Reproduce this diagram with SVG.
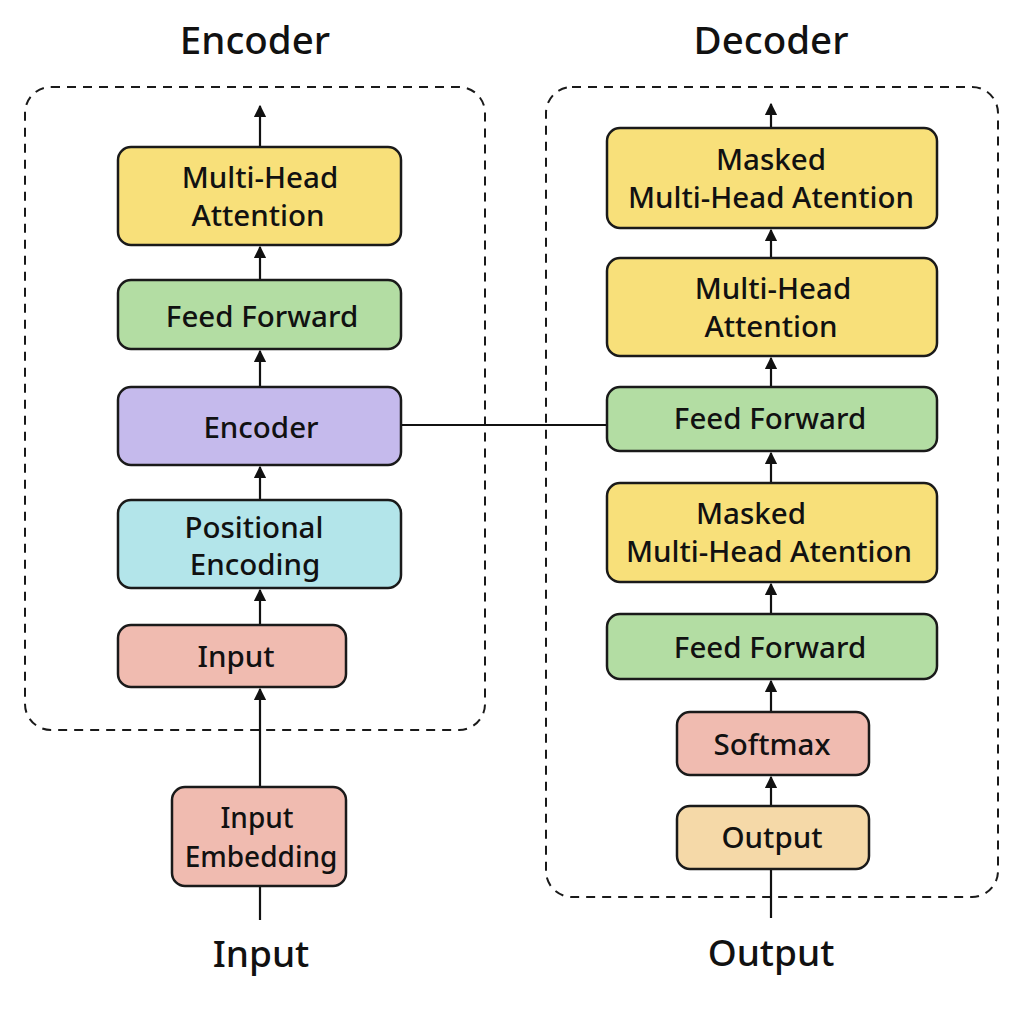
<svg xmlns="http://www.w3.org/2000/svg" width="1024" height="1024" viewBox="0 0 1024 1024">
<defs>
<marker id="ah" viewBox="0 0 10 10" refX="9" refY="5" markerWidth="5.5" markerHeight="5.5" orient="auto-start-reverse" markerUnits="strokeWidth">
<path d="M0,0 L10,5 L0,10 z" fill="#111"/>
</marker>
<style>
.box{stroke:#1a1a1a;stroke-width:2.5}
.dash{fill:none;stroke:#1a1a1a;stroke-width:2;stroke-dasharray:9 7}
.t{font-family:"Noto Sans","Open Sans",sans-serif;font-size:29.5px;fill:#111;text-anchor:middle;font-weight:500}
.title{font-family:"Noto Sans","Open Sans",sans-serif;font-size:37px;fill:#111;text-anchor:middle;font-weight:500}
.c{stroke:#111;stroke-width:2.2;fill:none}
.a{stroke:#111;stroke-width:2.2;fill:none;marker-end:url(#ah)}
.yel{fill:#F8E07A}.grn{fill:#B3DDA3}.pur{fill:#C5BAEC}.cyn{fill:#B3E5EA}.pnk{fill:#F0BBB0}.org{fill:#F5D9A8}
</style>
</defs>
<rect width="1024" height="1024" fill="#fff"/>
<text class="title" x="255" y="54" style="font-size:38.5px">Encoder</text>
<text class="title" x="771" y="54" style="font-size:38.5px">Decoder</text>
<rect class="dash" x="25" y="87" width="460" height="643" rx="26"/>
<rect class="dash" x="546" y="87" width="452" height="810" rx="26"/>
<g id="connectors">
<line class="a" x1="260" y1="147" x2="260" y2="106"/>
<line class="a" x1="260" y1="280" x2="260" y2="247"/>
<line class="a" x1="260" y1="387" x2="260" y2="351"/>
<line class="a" x1="260" y1="500" x2="260" y2="467"/>
<line class="a" x1="260" y1="625" x2="260" y2="590"/>
<line class="a" x1="260" y1="787" x2="260" y2="689"/>
<line class="c" x1="260" y1="920" x2="260" y2="886"/>
<line class="c" x1="401" y1="425" x2="607" y2="425"/>
<line class="a" x1="771" y1="128" x2="771" y2="104"/>
<line class="a" x1="771" y1="258" x2="771" y2="230"/>
<line class="a" x1="771" y1="387" x2="771" y2="358"/>
<line class="a" x1="771" y1="483" x2="771" y2="453"/>
<line class="a" x1="771" y1="614" x2="771" y2="584"/>
<line class="a" x1="771" y1="712" x2="771" y2="681"/>
<line class="a" x1="771" y1="806" x2="771" y2="777"/>
<line class="c" x1="771" y1="918" x2="771" y2="869"/>
</g>
<g id="enc-mha"><rect class="box yel" x="118" y="147" width="283" height="98" rx="13"/><text class="t" x="260" y="188">Multi-Head</text><text class="t" x="258" y="226">Attention</text></g>
<g id="enc-ff"><rect class="box grn" x="118" y="280" width="283" height="69" rx="13"/><text class="t" x="262" y="327">Feed Forward</text></g>
<g id="enc-encoder"><rect class="box pur" x="118" y="387" width="283" height="78" rx="13"/><text class="t" x="261" y="438">Encoder</text></g>
<g id="enc-pos"><rect class="box cyn" x="118" y="500" width="283" height="88" rx="13"/><text class="t" x="254" y="538">Positional</text><text class="t" x="255" y="575">Encoding</text></g>
<g id="enc-input"><rect class="box pnk" x="118" y="625" width="228" height="62" rx="13"/><text class="t" x="236" y="667">Input</text></g>
<g id="input-emb"><rect class="box pnk" x="172" y="787" width="174" height="99" rx="13"/><text class="t" x="257" y="828" style="font-size:28px">Input</text><text class="t" x="261" y="867" style="font-size:28px">Embedding</text></g>
<text class="title" x="261" y="967">Input</text>
<g id="dec-mmha1"><rect class="box yel" x="607" y="128" width="330" height="100" rx="13"/><text class="t" x="771" y="170">Masked</text><text class="t" x="771" y="208">Multi-Head Atention</text></g>
<g id="dec-mha"><rect class="box yel" x="607" y="258" width="330" height="98" rx="13"/><text class="t" x="773" y="299">Multi-Head</text><text class="t" x="771" y="337">Attention</text></g>
<g id="dec-ff1"><rect class="box grn" x="607" y="387" width="330" height="64" rx="13"/><text class="t" x="770" y="429">Feed Forward</text></g>
<g id="dec-mmha2"><rect class="box yel" x="607" y="483" width="330" height="99" rx="13"/><text class="t" x="751" y="524">Masked</text><text class="t" x="769" y="562">Multi-Head Atention</text></g>
<g id="dec-ff2"><rect class="box grn" x="607" y="614" width="330" height="65" rx="13"/><text class="t" x="770" y="658">Feed Forward</text></g>
<g id="dec-softmax"><rect class="box pnk" x="677" y="712" width="192" height="63" rx="13"/><text class="t" x="772" y="755">Softmax</text></g>
<g id="dec-output"><rect class="box org" x="677" y="806" width="192" height="63" rx="13"/><text class="t" x="772" y="848">Output</text></g>
<text class="title" x="771" y="966">Output</text>
</svg>
